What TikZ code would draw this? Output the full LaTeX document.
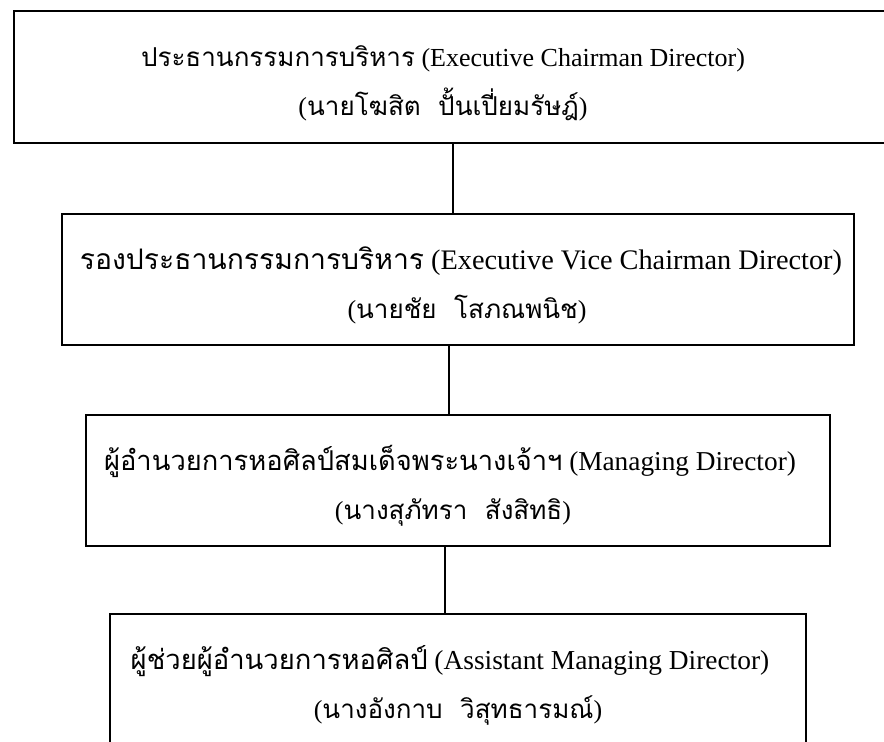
\documentclass[tikz,border=0pt]{standalone}
\usepackage{fontspec}
\setmainfont{Liberation Serif}
\newfontfamily\thaifont[Script=Thai]{Loma}
\newcommand{\thx}[1]{{\thaifont #1}}

\tikzset{
  orgbox/.style={draw=black, line width=1.6pt, rectangle, inner sep=0pt, anchor=north west},
  conn/.style={draw=black, line width=1.6pt},
  txt/.style={anchor=base, inner sep=0pt, font=\fontsize{26}{30}\selectfont},
  bigtxt/.style={txt, font=\fontsize{#1}{30}\selectfont},
}

\begin{document}
\begin{tikzpicture}[x=1pt, y=-1pt]
  \useasboundingbox (0,0) rectangle (884,742);
  \clip (0,0) rectangle (884,742);

  % boxes of the four levels
  \node[orgbox, minimum width=877pt, minimum height=132pt] (b1) at (13,10) {};
  \node[orgbox, minimum width=792pt, minimum height=131pt] (b2) at (61,213) {};
  \node[orgbox, minimum width=744pt, minimum height=131pt] (b3) at (85,414) {};
  \node[orgbox, minimum width=696pt, minimum height=150pt] (b4) at (109,613) {};

  % titles and names
  \node[txt] (t1a) at (443,66) {\thx{ประธานกรรมการบริหาร} (Executive Chairman Director)};
  \node[txt] (t1b) at (443,115) {(\thx{นายโฆสิต\ \ ปั้นเปี่ยมรัษฎ์})};
  \node[bigtxt=28.3] (t2a) at (461,269) {\thx{รองประธานกรรมการบริหาร} (Executive Vice Chairman Director)};
  \node[txt] (t2b) at (467,318) {(\thx{นายชัย\ \ โสภณพนิช})};
  \node[bigtxt=27.3] (t3a) at (450,470) {\thx{ผู้อำนวยการหอศิลป์สมเด็จพระนางเจ้าฯ} (Managing Director)};
  \node[txt] (t3b) at (453,519) {(\thx{นางสุภัทรา\ \ สังสิทธิ})};
  \node[bigtxt=27.4] (t4a) at (450,669) {\thx{ผู้ช่วยผู้อำนวยการหอศิลป์} (Assistant Managing Director)};
  \node[txt] (t4b) at (458,718) {(\thx{นางอังกาบ\ \ วิสุทธารมณ์})};

  % reporting lines
  \coordinate (x1) at (453,0);
  \coordinate (x2) at (449,0);
  \coordinate (x3) at (445,0);
  \draw[conn] (b1.south -| x1) -- (b2.north -| x1);
  \draw[conn] (b2.south -| x2) -- (b3.north -| x2);
  \draw[conn] (b3.south -| x3) -- (b4.north -| x3);
\end{tikzpicture}
\end{document}
